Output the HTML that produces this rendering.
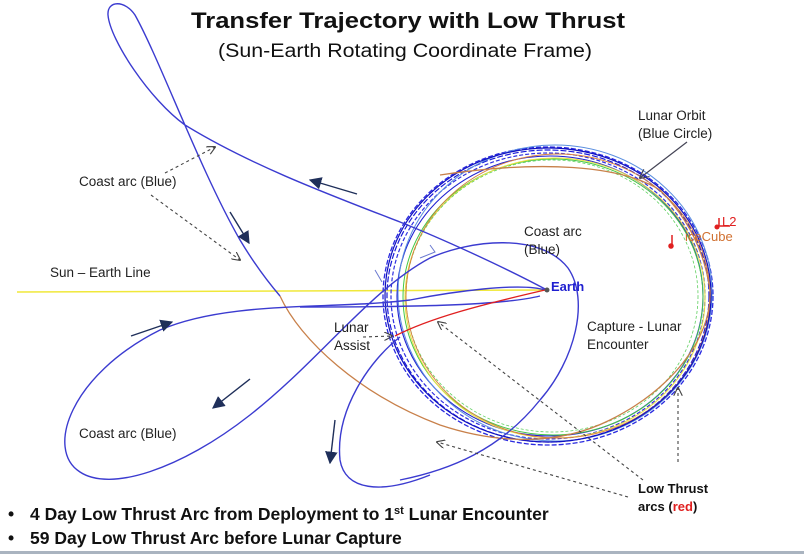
<!DOCTYPE html>
<html><head><style>
body{margin:0;width:804px;height:554px;background:#fff;overflow:hidden}
svg{display:block}
text{font-family:"Liberation Sans",sans-serif}
</style></head><body>
<svg width="804" height="554" viewBox="0 0 804 554" xmlns="http://www.w3.org/2000/svg">
<defs>
<marker id="ah" viewBox="0 0 10 10" refX="9" refY="5" markerWidth="9" markerHeight="9" orient="auto"><path d="M0,0 L10,5 L0,10 z" fill="#1f2f5a"/></marker>
<marker id="oh" viewBox="0 0 10 10" refX="9" refY="5" markerWidth="8" markerHeight="8" orient="auto"><path d="M0,0 L10,5 L0,10" fill="none" stroke="#444" stroke-width="1.3"/></marker>
<marker id="oh2" viewBox="0 0 10 10" refX="9" refY="5" markerWidth="8" markerHeight="8" orient="auto"><path d="M0,0 L10,5 L0,10" fill="none" stroke="#445" stroke-width="1.3"/></marker>
</defs>
<rect x="0" y="551" width="804" height="3" fill="#aab4c0"/>
<line x1="17" y1="292" x2="547" y2="290" stroke="#f0e83a" stroke-width="1.5"/>
<g fill="none">
<ellipse cx="548" cy="296" rx="165" ry="149" stroke="#2a2ae0" stroke-width="1.3" stroke-dasharray="5 2"/>
<ellipse cx="548" cy="296" rx="161" ry="146" stroke="#1a1ad8" stroke-width="1.2" stroke-dasharray="6 2"/>
<ellipse cx="548" cy="296" rx="157" ry="143" stroke="#3030e0" stroke-width="1.2" stroke-dasharray="4 2"/>
<ellipse cx="550" cy="296" rx="153" ry="140" stroke="#2020d0" stroke-width="1.1"/>
<ellipse cx="553" cy="297" rx="150" ry="138" stroke="#44c844" stroke-width="1"/>
<ellipse cx="555" cy="298" rx="150" ry="140" stroke="#e8e040" stroke-width="1"/>
<ellipse cx="552" cy="296" rx="146" ry="136" stroke="#60d060" stroke-width="0.8" stroke-dasharray="3 2"/>
<ellipse cx="558" cy="296" rx="152" ry="142" stroke="#d88040" stroke-width="0.9"/>
<ellipse cx="555" cy="293" rx="157" ry="148" stroke="#5b8fe0" stroke-width="1"/>
<ellipse cx="548" cy="295" rx="163" ry="147" stroke="#1010c0" stroke-width="1.2"/>
</g>
<path d="M280,296 C300,340 360,395 440,425 C500,445 560,445 610,420 C670,390 712,340 710,290 C705,255 690,220 660,190 C620,165 540,160 440,175" fill="none" stroke="#c8804a" stroke-width="1.3"/>
<g fill="none" stroke="#3b3bd0" stroke-width="1.4">
<path d="M545,290 C520,282 450,292 410,300 C330,310 230,300 160,330 C70,375 45,450 80,472 C110,492 180,470 250,415 C320,360 370,290 430,258 C470,240 540,232 568,268 C590,300 575,360 540,400 C500,450 450,470 400,480"/>
<path d="M540,296 C500,306 400,307 300,307"/>
<path d="M400,337 C370,360 335,410 340,460 C345,490 380,495 430,475"/>
<path d="M547,290 C500,265 440,238 400,222 C330,195 250,165 185,125 C150,100 110,40 108,15 C107,0 125,0 135,15 C160,60 200,170 240,240 C255,265 268,282 280,296"/>
</g>
<path d="M395,336 C430,318 480,305 545,290" fill="none" stroke="#e02020" stroke-width="1.3"/>
<g stroke="#e02020" stroke-width="1.5" fill="#e02020">
<line x1="672" y1="235" x2="672" y2="246"/><circle cx="671" cy="246" r="2"/>
<line x1="719" y1="226" x2="730" y2="226"/><line x1="719" y1="218" x2="719" y2="226"/><circle cx="717" cy="227" r="1.8"/>
</g>
<text x="685" y="241" font-size="13" fill="#d07030">iceCube</text>
<text x="722" y="226" font-size="13" fill="#e02020">L2</text>
<circle cx="547" cy="290" r="2.5" fill="#555"/>
<text x="551" y="291" font-size="13" font-weight="bold" fill="#2020d0">Earth</text>
<path d="M430,245 L435,252 L420,258 M375,270 L382,282" stroke="#6b7ad0" stroke-width="1" fill="none"/>
<g stroke="#1f2f5a" stroke-width="1.4" marker-end="url(#ah)">
<line x1="357" y1="194" x2="310" y2="180"/>
<line x1="230" y1="212" x2="249" y2="243"/>
<line x1="131" y1="336" x2="172" y2="322"/>
<line x1="250" y1="379" x2="213" y2="408"/>
<line x1="335" y1="420" x2="330" y2="463"/>
</g>
<line x1="687" y1="142" x2="640" y2="178" stroke="#445" stroke-width="1.2" marker-end="url(#oh2)"/>
<g stroke="#444" stroke-width="1.1" stroke-dasharray="3 3" fill="none" marker-end="url(#oh)">
<line x1="165" y1="173" x2="215" y2="147"/>
<line x1="151" y1="195" x2="240" y2="260"/>
<line x1="363" y1="337" x2="392" y2="336"/>
<line x1="643" y1="480" x2="438" y2="322"/>
<line x1="628" y1="497" x2="437" y2="442"/>
<line x1="678" y1="462" x2="678" y2="388"/>
</g>
<text x="408" y="28" font-size="22" font-weight="bold" text-anchor="middle" fill="#111" textLength="434" lengthAdjust="spacingAndGlyphs">Transfer Trajectory with Low Thrust</text>
<text x="405" y="57" font-size="19" text-anchor="middle" fill="#111" textLength="374" lengthAdjust="spacingAndGlyphs">(Sun-Earth Rotating Coordinate Frame)</text>
<g font-size="13.5" fill="#222">
<text x="638" y="120">Lunar Orbit</text>
<text x="638" y="138">(Blue Circle)</text>
<text x="79" y="186">Coast arc (Blue)</text>
<text x="50" y="277">Sun – Earth Line</text>
<text x="524" y="236">Coast arc</text>
<text x="524" y="254">(Blue)</text>
<text x="587" y="331">Capture  - Lunar</text>
<text x="587" y="349">Encounter</text>
<text x="334" y="332">Lunar</text>
<text x="334" y="350">Assist</text>
<text x="79" y="438">Coast arc (Blue)</text>
</g>
<g font-size="13" font-weight="bold" fill="#111">
<text x="638" y="493">Low Thrust</text>
<text x="638" y="511">arcs (<tspan fill="#e02020">red</tspan>)</text>
</g>
<g font-size="17.5" font-weight="bold" fill="#111">
<text x="8" y="520">•</text>
<text x="30" y="520">4 Day Low Thrust Arc from Deployment to 1<tspan font-size="11" dy="-6">st</tspan><tspan dy="6"> Lunar Encounter</tspan></text>
<text x="8" y="544">•</text>
<text x="30" y="544">59 Day Low Thrust Arc before Lunar Capture</text>
</g>
</svg>
</body></html>
